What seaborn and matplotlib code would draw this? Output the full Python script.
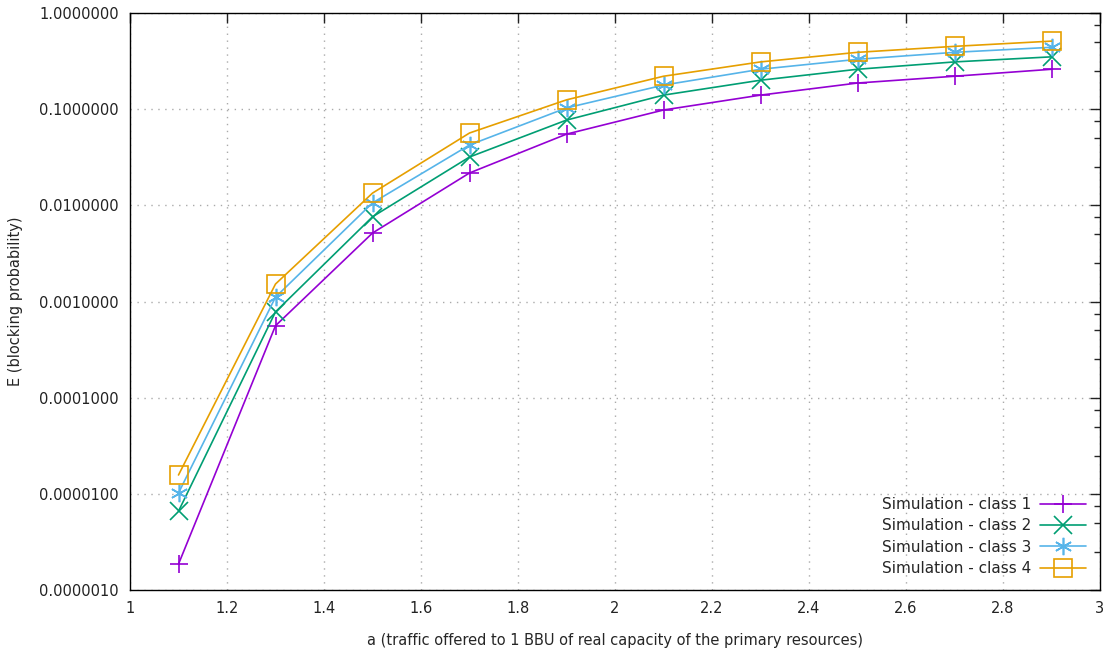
import numpy as np
import pandas as pd
import matplotlib
matplotlib.use("Agg")
import matplotlib.pyplot as plt
import matplotlib.ticker as mticker
import seaborn as sns

# traffic offered per BBU
a = [1.1, 1.3, 1.5, 1.7, 1.9, 2.1, 2.3, 2.5, 2.7, 2.9]

# blocking probability per class
class1 = [1.86e-6, 5.6e-4, 5.15e-3, 0.0217, 0.055, 0.098, 0.14, 0.187, 0.22, 0.26]
class2 = [6.6e-6, 7.8e-4, 7.6e-3, 0.0318, 0.077, 0.14, 0.20, 0.26, 0.31, 0.35]
class3 = [1.02e-5, 1.11e-3, 0.0106, 0.0424, 0.103, 0.178, 0.26, 0.33, 0.39, 0.44]
class4 = [1.57e-5, 1.52e-3, 0.0134, 0.0565, 0.125, 0.22, 0.31, 0.39, 0.45, 0.51]

labels = ["Simulation - class 1", "Simulation - class 2",
          "Simulation - class 3", "Simulation - class 4"]
series = [class1, class2, class3, class4]
colors = ["#9400d3", "#009e73", "#56b4e9", "#e69f00"]
markers = ["+", "x", (6, 2, 0), "s"]

sns.set_style("white")
plt.rcParams["font.family"] = ["DejaVu Sans"]

fig = plt.figure(figsize=(11.05, 6.59), dpi=100)
ax = fig.add_axes([130 / 1105, 1 - 590 / 659, 970 / 1105, 577 / 659])

for lab, ys, c, m in zip(labels, series, colors, markers):
    df = pd.DataFrame({"a": a, "E": ys})
    sns.lineplot(data=df, x="a", y="E", ax=ax, color=c, marker=m, label=lab,
                 markersize=12.5, markeredgewidth=1.2, markeredgecolor=c,
                 markerfacecolor="none", linewidth=1.2)

ax.set_yscale("log")
ax.set_xlim(1, 3)
ax.set_ylim(1e-6, 1)
ax.set_xticks(np.arange(1, 3.01, 0.2))
ax.xaxis.set_major_formatter(mticker.FuncFormatter(lambda v, p: f"{v:g}"))
decades = [10.0 ** k for k in range(-6, 1)]
ax.yaxis.set_major_locator(mticker.FixedLocator(decades))
ax.yaxis.set_minor_locator(mticker.FixedLocator(
    [d * s for d in decades[:-1] for s in (2.5, 5, 7.5)]))
ax.yaxis.set_major_formatter(mticker.FuncFormatter(lambda v, p: f"{v:.7f}"))
ax.yaxis.set_minor_formatter(mticker.NullFormatter())

ax.tick_params(which="major", direction="in", length=7, width=1,
               top=True, right=True, labelsize=10.5, colors="#222222", pad=8)
ax.tick_params(which="minor", direction="in", length=4, width=1, right=True)
ax.grid(True, which="major", color="#aaaaaa", linestyle=(0, (1, 4)), linewidth=1)
for s in ax.spines.values():
    s.set_color("black")
    s.set_linewidth(1)

ax.set_xlabel("a (traffic offered to 1 BBU of real capacity of the primary resources)",
              fontsize=10.5, labelpad=12)
ax.set_ylabel("E (blocking probability)", fontsize=10.5, labelpad=12)

ax.legend(loc="lower right", frameon=False, markerfirst=False, fontsize=11,
          handlelength=3.0, labelspacing=0.42, borderaxespad=0.5, handletextpad=0.6)

fig.savefig("out.png", dpi=100)
